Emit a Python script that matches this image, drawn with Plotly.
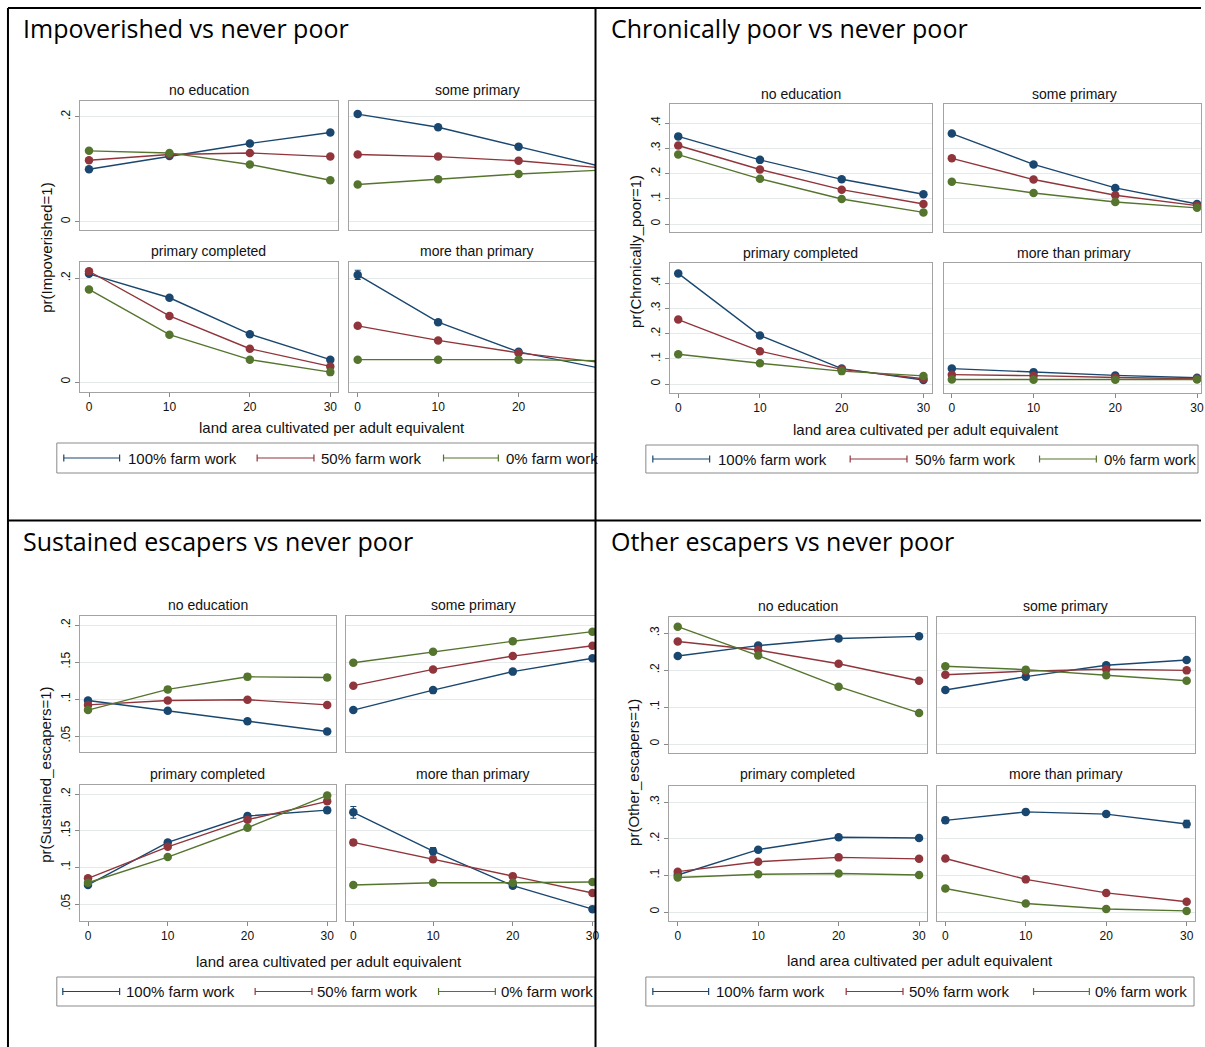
import plotly.graph_objects as go

W, H = 1205, 1047

LAND = [0, 10, 20, 30]
EDU = ["no education", "some primary", "primary completed", "more than primary"]
SERIES = ["100% farm work", "50% farm work", "0% farm work"]
COLORS = ["#1a476f", "#90353b", "#55752f"]

# ---- Impoverished vs never poor (rows: 100%, 50%, 0% farm work) ----
IMP_NO_EDU = [[0.100, 0.125, 0.149, 0.170], [0.117, 0.128, 0.131, 0.124], [0.135, 0.131, 0.109, 0.079]]
IMP_SOME = [[0.205, 0.180, 0.143, 0.106], [0.128, 0.124, 0.116, 0.103], [0.071, 0.081, 0.091, 0.098]]
IMP_COMPL = [[0.208, 0.162, 0.092, 0.043], [0.213, 0.127, 0.064, 0.030], [0.178, 0.091, 0.043, 0.019]]
IMP_MORE = [[0.206, 0.115, 0.058, 0.027], [0.108, 0.080, 0.056, 0.038], [0.043, 0.043, 0.043, 0.041]]
IMP_NO_EDU_CI = [[0.003, 0.003, 0.003, 0.003], [0.003, 0.003, 0.003, 0.003], [0.003, 0.003, 0.003, 0.003]]
IMP_SOME_CI = [[0.003, 0.003, 0.003, 0.003], [0.003, 0.003, 0.003, 0.003], [0.003, 0.003, 0.003, 0.003]]
IMP_COMPL_CI = [[0.004, 0.003, 0.003, 0.003], [0.003, 0.003, 0.003, 0.003], [0.003, 0.003, 0.003, 0.003]]
IMP_MORE_CI = [[0.009, 0.004, 0.003, 0.003], [0.004, 0.003, 0.003, 0.003], [0.003, 0.003, 0.003, 0.003]]

# ---- Chronically poor vs never poor ----
CHR_NO_EDU = [[0.347, 0.254, 0.177, 0.118], [0.311, 0.216, 0.136, 0.079], [0.275, 0.179, 0.099, 0.046]]
CHR_SOME = [[0.358, 0.236, 0.143, 0.079], [0.260, 0.176, 0.114, 0.073], [0.167, 0.123, 0.087, 0.064]]
CHR_COMPL = [[0.438, 0.192, 0.061, 0.016], [0.255, 0.130, 0.058, 0.021], [0.118, 0.082, 0.051, 0.032]]
CHR_MORE = [[0.061, 0.047, 0.034, 0.025], [0.037, 0.033, 0.026, 0.021], [0.018, 0.017, 0.017, 0.018]]
CHR_NO_EDU_CI = [[0.005, 0.004, 0.004, 0.004], [0.004, 0.004, 0.004, 0.004], [0.004, 0.004, 0.004, 0.004]]
CHR_SOME_CI = [[0.005, 0.004, 0.004, 0.004], [0.004, 0.004, 0.004, 0.004], [0.004, 0.004, 0.004, 0.004]]
CHR_COMPL_CI = [[0.006, 0.005, 0.004, 0.004], [0.005, 0.004, 0.004, 0.004], [0.004, 0.004, 0.004, 0.004]]
CHR_MORE_CI = [[0.004, 0.004, 0.004, 0.004], [0.004, 0.004, 0.004, 0.004], [0.004, 0.004, 0.004, 0.004]]

# ---- Sustained escapers vs never poor ----
SUS_NO_EDU = [[0.098, 0.084, 0.070, 0.056], [0.092, 0.098, 0.099, 0.092], [0.085, 0.113, 0.130, 0.129]]
SUS_SOME = [[0.085, 0.112, 0.137, 0.155], [0.118, 0.140, 0.158, 0.172], [0.149, 0.164, 0.178, 0.191]]
SUS_COMPL = [[0.076, 0.134, 0.170, 0.178], [0.085, 0.128, 0.165, 0.190], [0.079, 0.114, 0.154, 0.198]]
SUS_MORE = [[0.175, 0.122, 0.075, 0.043], [0.134, 0.111, 0.088, 0.065], [0.076, 0.079, 0.079, 0.080]]
SUS_NO_EDU_CI = [[0.003, 0.002, 0.002, 0.003], [0.002, 0.002, 0.002, 0.002], [0.002, 0.003, 0.004, 0.004]]
SUS_SOME_CI = [[0.002, 0.002, 0.002, 0.003], [0.002, 0.002, 0.002, 0.003], [0.003, 0.002, 0.002, 0.003]]
SUS_COMPL_CI = [[0.003, 0.003, 0.003, 0.004], [0.003, 0.002, 0.002, 0.003], [0.002, 0.002, 0.002, 0.003]]
SUS_MORE_CI = [[0.008, 0.005, 0.003, 0.003], [0.004, 0.003, 0.003, 0.003], [0.003, 0.002, 0.002, 0.003]]

# ---- Other escapers vs never poor ----
OTH_NO_EDU = [[0.238, 0.266, 0.285, 0.291], [0.277, 0.254, 0.217, 0.171], [0.317, 0.239, 0.155, 0.084]]
OTH_SOME = [[0.146, 0.182, 0.213, 0.227], [0.187, 0.197, 0.202, 0.199], [0.210, 0.201, 0.186, 0.171]]
OTH_COMPL = [[0.101, 0.170, 0.204, 0.202], [0.110, 0.137, 0.149, 0.145], [0.094, 0.103, 0.105, 0.101]]
OTH_MORE = [[0.250, 0.273, 0.267, 0.240], [0.146, 0.089, 0.052, 0.028], [0.064, 0.023, 0.008, 0.003]]
OTH_NO_EDU_CI = [[0.004, 0.004, 0.004, 0.004], [0.004, 0.004, 0.004, 0.004], [0.004, 0.004, 0.004, 0.004]]
OTH_SOME_CI = [[0.004, 0.004, 0.004, 0.004], [0.004, 0.004, 0.004, 0.004], [0.004, 0.004, 0.004, 0.004]]
OTH_COMPL_CI = [[0.004, 0.004, 0.004, 0.004], [0.004, 0.004, 0.004, 0.004], [0.004, 0.004, 0.004, 0.004]]
OTH_MORE_CI = [[0.008, 0.007, 0.006, 0.010], [0.005, 0.004, 0.004, 0.004], [0.004, 0.003, 0.003, 0.003]]

X_TITLE = "land area cultivated per adult equivalent"

STATA_FONT = "Liberation Sans, Arial, Helvetica, sans-serif"
TITLE_FONT = "Open Sans, Noto Sans, sans-serif"
TXT = "#111111"

# Geometry (pixels). cols: (frame_left, frame_right_true, x_of_zero, clip_right)
PANELS = [
    dict(title="Impoverished vs never poor", tpos=(21, 28),
         ytitle="pr(Impoverished=1)", ytpos=(46, 248),
         data=[IMP_NO_EDU, IMP_SOME, IMP_COMPL, IMP_MORE],
         ci=[IMP_NO_EDU_CI, IMP_SOME_CI, IMP_COMPL_CI, IMP_MORE_CI],
         cols=[(80, 339, 89.3, 597), (350, 608, 358.9, 597)], xs=8.07,
         rows=[(101, 230, (0, 221.7), (0.2, 116.7)), (262, 392, (0, 382), (0.2, 278))],
         yticks=[0, 0.2], ytext=["0", ".2"], subt_y=[90, 251], xtpos=(333, 428),
         legend=dict(box=(57, 443, 597, 473), items=[(64, 120, 126), (258, 315, 320), (445, 500, 506)])),
    dict(title="Chronically poor vs never poor", tpos=(611, 28),
         ytitle="pr(Chronically_poor=1)", ytpos=(637, 251),
         data=[CHR_NO_EDU, CHR_SOME, CHR_COMPL, CHR_MORE],
         ci=[CHR_NO_EDU_CI, CHR_SOME_CI, CHR_COMPL_CI, CHR_MORE_CI],
         cols=[(672, 935, 680.5, 1205), (947, 1209, 955, 1205)], xs=8.2,
         rows=[(104, 232, (0, 224), (0.4, 123)), (263, 393, (0, 384), (0.4, 283))],
         yticks=[0, 0.1, 0.2, 0.3, 0.4], ytext=["0", ".1", ".2", ".3", ".4"], subt_y=[94, 253], xtpos=(929, 429),
         legend=dict(box=(648, 445, 1202, 473), items=[(655, 712, 718), (853, 910, 916), (1043, 1100, 1106)])),
    dict(title="Sustained escapers vs never poor", tpos=(21, 541),
         ytitle="pr(Sustained_escapers=1)", ytpos=(45, 775),
         data=[SUS_NO_EDU, SUS_SOME, SUS_COMPL, SUS_MORE],
         ci=[SUS_NO_EDU_CI, SUS_SOME_CI, SUS_COMPL_CI, SUS_MORE_CI],
         cols=[(80, 337, 88.3, 597), (347, 603, 354.5, 597)], xs=8.0,
         rows=[(616, 752, (0.2, 625), (0.05, 736)), (785, 921, (0.2, 794), (0.05, 904))],
         yticks=[0.05, 0.1, 0.15, 0.2], ytext=[".05", ".1", ".15", ".2"], subt_y=[605, 774], xtpos=(330, 961),
         legend=dict(box=(57, 977, 597, 1006), items=[(63, 120, 124), (256, 313, 316), (440, 497, 501)])),
    dict(title="Other escapers vs never poor", tpos=(611, 541),
         ytitle="pr(Other_escapers=1)", ytpos=(635, 772),
         data=[OTH_NO_EDU, OTH_SOME, OTH_COMPL, OTH_MORE],
         ci=[OTH_NO_EDU_CI, OTH_SOME_CI, OTH_COMPL_CI, OTH_MORE_CI],
         cols=[(671, 930, 680, 1205), (940, 1199, 948.5, 1205)], xs=8.07,
         rows=[(617, 753, (0.3, 633), (0, 744)), (786, 921, (0.3, 802), (0, 912))],
         yticks=[0, 0.1, 0.2, 0.3], ytext=["0", ".1", ".2", ".3"], subt_y=[606, 774], xtpos=(923, 960),
         legend=dict(box=(648, 977, 1198, 1006), items=[(655, 711, 716), (849, 906, 910), (1037, 1093, 1097)])),
]


def px(x):
    return x / W


def py(y):
    return 1 - y / H


fig = go.Figure()
layout = dict(width=W, height=H, autosize=False, margin=dict(l=0, r=0, t=0, b=0),
              paper_bgcolor="white", plot_bgcolor="white", showlegend=False)
annotations = []
shapes = []

k = 0
for p in PANELS:
    for ei, edu in enumerate(EDU):
        k += 1
        r, c = divmod(ei, 2)
        fl, fr, x0, clip = p["cols"][c]
        right = min(fr, clip)
        xrange_ = [(fl - x0) / p["xs"], (right - x0) / p["xs"]]
        top, bot, (v1, p1), (v2, p2) = p["rows"][r]
        slope = (p2 - p1) / (v2 - v1)
        yrange_ = [v1 + (bot - p1) / slope, v1 + (top - p1) / slope]
        xa = "xaxis" if k == 1 else f"xaxis{k}"
        ya = "yaxis" if k == 1 else f"yaxis{k}"
        xid = "x" if k == 1 else f"x{k}"
        yid = "y" if k == 1 else f"y{k}"
        layout[xa] = dict(domain=[px(fl), px(right)], range=xrange_, anchor=yid,
                          showgrid=False, zeroline=False, showline=True, mirror=True,
                          linecolor="#a3a3a3", linewidth=1,
                          tickvals=LAND, ticktext=[str(v) for v in LAND],
                          ticks="outside" if r == 1 else "", ticklen=4, tickcolor="#888888",
                          showticklabels=(r == 1),
                          tickfont=dict(family=STATA_FONT, size=12, color=TXT), fixedrange=True)
        layout[ya] = dict(domain=[py(bot), py(top)], range=yrange_, anchor=xid,
                          showgrid=True, gridcolor="#e6e9e9", gridwidth=1, zeroline=False,
                          showline=True, mirror=True, linecolor="#a3a3a3", linewidth=1,
                          tickvals=p["yticks"], ticktext=p["ytext"],
                          ticks="outside" if c == 0 else "", ticklen=4, tickcolor="#888888",
                          showticklabels=(c == 0), tickangle=-90,
                          tickfont=dict(family=STATA_FONT, size=12, color=TXT), fixedrange=True)
        for si, sname in enumerate(SERIES):
            fig.add_trace(go.Scatter(
                x=LAND, y=p["data"][ei][si], mode="lines+markers", name=sname,
                xaxis=xid, yaxis=yid,
                line=dict(color=COLORS[si], width=1.4),
                marker=dict(color=COLORS[si], size=8.5, symbol="circle"),
                error_y=dict(type="data", array=p["ci"][ei][si], width=3, thickness=1.1, color=COLORS[si]),
            ))
        # subplot title
        annotations.append(dict(text=edu, x=px((fl + fr) / 2), y=py(p["subt_y"][r]),
                                xref="paper", yref="paper", xanchor="center", yanchor="middle",
                                showarrow=False, font=dict(family=STATA_FONT, size=14, color=TXT)))
    # panel title
    annotations.append(dict(text=p["title"], x=px(p["tpos"][0]), y=py(p["tpos"][1]),
                            xref="paper", yref="paper", xanchor="left", yanchor="middle",
                            showarrow=False, font=dict(family=TITLE_FONT, size=25, color="#000000")))
    # y title
    annotations.append(dict(text=p["ytitle"], x=px(p["ytpos"][0]), y=py(p["ytpos"][1]),
                            xref="paper", yref="paper", xanchor="center", yanchor="middle", textangle=-90,
                            showarrow=False, font=dict(family=STATA_FONT, size=15, color=TXT)))
    # x title
    annotations.append(dict(text=X_TITLE, x=px(p["xtpos"][0]), y=py(p["xtpos"][1]),
                            xref="paper", yref="paper", xanchor="center", yanchor="middle",
                            showarrow=False, font=dict(family=STATA_FONT, size=15, color=TXT)))
    # legend
    lg = p["legend"]
    bx0, by0, bx1, by1 = lg["box"]
    shapes.append(dict(type="rect", xref="paper", yref="paper", x0=px(bx0), x1=px(bx1), y0=py(by1), y1=py(by0),
                       line=dict(color="#8a8a8a", width=1), fillcolor="rgba(0,0,0,0)", layer="above"))
    ymid = (by0 + by1) / 2
    for si, (lx0, lx1, tx) in enumerate(lg["items"]):
        shapes.append(dict(type="line", xref="paper", yref="paper", x0=px(lx0), x1=px(lx1), y0=py(ymid), y1=py(ymid),
                           line=dict(color=COLORS[si], width=1.2), layer="above"))
        for cx in (lx0, lx1):
            shapes.append(dict(type="line", xref="paper", yref="paper", x0=px(cx), x1=px(cx),
                               y0=py(ymid - 3.5), y1=py(ymid + 3.5),
                               line=dict(color=COLORS[si], width=1.2), layer="above"))
        annotations.append(dict(text=SERIES[si], x=px(tx), y=py(ymid), xref="paper", yref="paper",
                                xanchor="left", yanchor="middle", showarrow=False,
                                font=dict(family=STATA_FONT, size=15, color=TXT)))

# document frame lines
for (x0_, y0_, x1_, y1_) in [(8, 8, 1205, 8), (8, 8, 8, 1047), (597.5, 8, 597.5, 1047), (8, 520.5, 1205, 520.5)]:
    shapes.append(dict(type="line", xref="paper", yref="paper", x0=px(x0_), x1=px(x1_), y0=py(y0_), y1=py(y1_),
                       line=dict(color="#000000", width=2), layer="above"))

layout["annotations"] = annotations
layout["shapes"] = shapes
fig.update_layout(**layout)

fig.write_html("out.html", config={"displayModeBar": False},
               post_script="document.body.style.margin='0px';document.body.style.overflow='hidden';")
